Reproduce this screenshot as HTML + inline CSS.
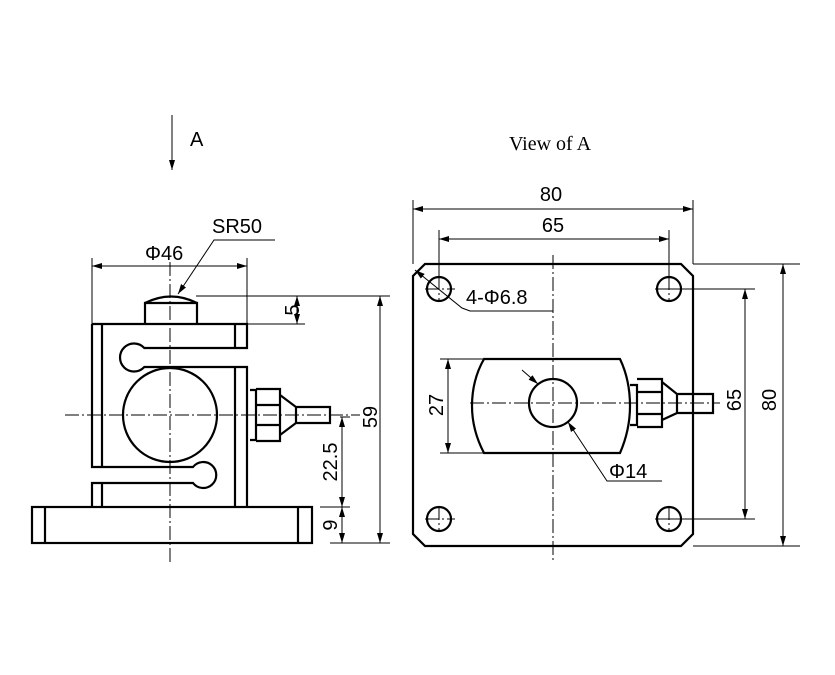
<!DOCTYPE html>
<html><head><style>body{margin:0;background:#fff}svg{display:block}</style></head><body>
<svg width="835" height="675" viewBox="0 0 835 675" xmlns="http://www.w3.org/2000/svg" font-family="Liberation Sans, sans-serif">
<defs><marker id="a" viewBox="0 0 10 6" refX="10" refY="3" markerWidth="10" markerHeight="6" orient="auto-start-reverse" markerUnits="userSpaceOnUse"><path d="M0,0L10,3L0,6z" fill="#000"/></marker></defs>
<g fill="none" stroke="#000" stroke-width="2.2">
<path d="M92,324H247V348H144.3A14,14 0 1 0 144.3,367H247V507"/>
<path d="M92,324V467H193A13,13 0 1 1 193,483H92V507"/>
<path d="M102,324V467M102,483V507M235,324V348M235,367V507"/>
<circle cx="170" cy="415" r="47"/>
<path d="M145,324V303H197V324"/><path d="M145,303Q171,290 197,303"/>
<rect x="32" y="507" width="280" height="36"/><path d="M45,507V543M298,507V543"/>
<path d="M250,390H256V440H250M256,389H280V441H256M256,405H280M256,425H280M280,395L296,407V423L280,435M296,407H330V423H296"/>
<path d="M425,264H681L693,276V534L681,546H425L413,534V276Z"/>
<circle cx="439" cy="289" r="12"/><circle cx="669" cy="289" r="12"/><circle cx="439" cy="519" r="12"/><circle cx="669" cy="519" r="12"/>
<path d="M484,359H620Q630,380 630,406Q630,430 620,453H484Q472,430 472,406Q472,380 484,359Z"/>
<circle cx="553" cy="403" r="24"/>
<path d="M630,385H637V425H630M637,379H662V427H637M637,392H662M637,414H662M662,382L677,394V413L662,420M677,394H713V413H677"/>
</g>
<g fill="none" stroke="#000" stroke-width="1">
<g stroke-dasharray="14,3,2,3">
<path d="M170,262V562M65,415H360M553,255V560M470,403H720M425,289H455M425,519H455M655,289H685M655,519H685M439,276V302M669,276V302M439,506V532M669,506V532"/>
</g>
<path d="M92,324V258M247,324V258M196,296H390M247,324H305M330,543H390M320,507H350M340,417H350"/>
<g marker-start="url(#a)" marker-end="url(#a)">
<path d="M92,266H247"/><path d="M297,296V324"/><path d="M380,296V543"/><path d="M342,417V507"/><path d="M342,507V543"/>
<path d="M413,209H693"/><path d="M439,239H669"/><path d="M745,289V519"/><path d="M783,264V546"/><path d="M448,359V453"/>
</g>
<path d="M275,240H214L178,294" marker-end="url(#a)"/>
<path d="M172,115V170" marker-end="url(#a)"/>
<path d="M413,264V200M693,264V200M439,289V230M669,289V230M693,264H800M693,546H800M669,289H755M669,519H755M440,359H484M440,453H484"/>
<path d="M553,311H470L462,308L415,270" marker-end="url(#a)"/>
<path d="M522,370L538,384" marker-end="url(#a)"/>
<path d="M662,481H607L568,422" marker-end="url(#a)"/>
</g>
<g font-size="20" fill="#000">
<text x="190" y="146">A</text>
<text x="212" y="233">SR50</text>
<text x="145" y="260">Φ46</text>
<text x="293" y="310" transform="rotate(-90 293 310)" text-anchor="middle" dy="6">5</text>
<text x="371" y="417" transform="rotate(-90 371 417)" text-anchor="middle" dy="6">59</text>
<text x="331" y="462" transform="rotate(-90 331 462)" text-anchor="middle" dy="6">22.5</text>
<text x="331" y="525" transform="rotate(-90 331 525)" text-anchor="middle" dy="6">9</text>
<text x="551" y="201" text-anchor="middle">80</text>
<text x="553" y="232" text-anchor="middle">65</text>
<text x="466" y="304">4-Φ6.8</text>
<text x="609" y="478">Φ14</text>
<text x="437" y="405" transform="rotate(-90 437 405)" text-anchor="middle" dy="6">27</text>
<text x="735" y="400" transform="rotate(-90 735 400)" text-anchor="middle" dy="6">65</text>
<text x="770" y="400" transform="rotate(-90 770 400)" text-anchor="middle" dy="6">80</text>
</g>
<text x="550" y="150" text-anchor="middle" font-family="Liberation Serif, serif" font-size="20">View of A</text>
</svg>
</body></html>
